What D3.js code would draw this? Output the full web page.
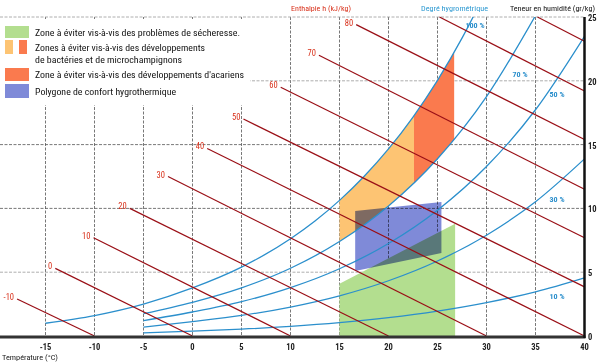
<!DOCTYPE html>
<html><head><meta charset="utf-8">
<script src="https://cdn.jsdelivr.net/npm/d3@7"></script>
<style>
html,body{margin:0;padding:0;background:#fff;}
svg{display:block;font-family:"Liberation Sans Narrow","Roboto Condensed","Liberation Sans",Arial,sans-serif;}
</style></head>
<body><svg id="c" width="600" height="364"></svg>
<script>
// ---------- DATA ----------
const xTicks = [-15,-10,-5,0,5,10,15,20,25,30,35,40];
const yTicks = [0,5,10,15,20,25];
// relative humidity curves (T in °C, W in g/kg)
const rhLabels = ["100 %","70 %","50 %","30 %","10 %"];
const rh100T = [-15,-10,-5,0,5,10,12.5,15,17.5,20,22.5,25,27.5,28.7];
const rh100W = [1.0,1.6,2.5,3.77,5.4,7.62,9.01,10.63,12.5,14.66,17.16,20.04,23.34,25.1];
const rhT = [-5,0,5,10,15,20,25,30,35,40];
const rh70W = [1.75,2.64,3.77,5.31,7.40,10.19,13.89,18.76,25.11,null];
const rh50W = [1.2,1.88,2.69,3.79,5.27,7.25,9.86,13.28,17.73,23.49];
const rh30W = [0.7,1.13,1.61,2.27,3.15,4.33,5.88,7.90,10.52,13.88];
const rh10W = [0.24,0.375,0.535,0.754,1.046,1.435,1.946,2.612,3.466,4.56];
// enthalpy lines (kJ/kg)
const hValues = [-10,0,10,20,30,40,50,60,70,80,90,100];
const hShowLabel = [true,true,true,true,true,true,true,true,true,true,false,false];
const hStartT = [-17.9,-14.0,-10.1,-6.4,-2.5,1.5,5.2,9.0,12.9,16.7,25.2,35.2];
const hStartW = [2.9,5.3,7.7,10.0,12.5,14.7,17.0,19.5,22.0,24.4,25,25];
const hEndT = [-10,0,10,20,30,40,40,40,40,40,40,40];
const hEndW = [0,0,0,0,0,0,3.85,7.7,11.5,15.4,19.2,23.1];
// zones
const orangeT = [15,17.5,20,22.6];
const orangeTop = [10.63,12.5,14.66,17.27];
const orangeBot = [7.40,8.70,10.19,11.99];
const redT = [22.6,25,26.7];
const redTop = [17.27,20.04,22.23];
const redBot = [11.99,13.89,15.40];
const greenT = [15,26.8];
const greenTop = [4.1,8.8];
const comfortT = [16.6,25.4,25.4,16.6];
const comfortW = [9.8,10.5,6.5,5.1];
// legend
const legendTexts = [
  "Zone à éviter vis-à-vis des problèmes de sécheresse.",
  "Zones à éviter vis-à-vis des développements",
  "de bactéries et de microchampignons",
  "Zone à éviter vis-à-vis des développements d'acariens",
  "Polygone de confort hygrothermique"
];

// ---------- STYLE ----------
const C = {green:"#b3de8f", orange:"#fdc473", red:"#fa7a4e", blue:"#7f8ad8",
  rh:"#2b8fcc", h:"#9a0f16", hLabel:"#d8301a", grid:"#555"};

const svg = d3.select("#c");
const x = d3.scaleLinear().domain([-15,40]).range([45.5,584.5]);
const y = d3.scaleLinear().domain([0,25]).range([336,17]);

svg.append("defs").append("clipPath").attr("id","plot")
  .append("rect").attr("x",0).attr("y",y(25)).attr("width",x(40)).attr("height",y(0)-y(25));

// grid
const g = svg.append("g");
g.selectAll("line.v").data(xTicks.filter(t=>t<40)).enter().append("line")
  .attr("x1",d=>x(d)).attr("x2",d=>x(d)).attr("y1",y(25)).attr("y2",y(0))
  .attr("stroke",C.grid).attr("stroke-width",0.8).attr("stroke-dasharray","3,1.5");
g.selectAll("line.h").data(yTicks.filter(t=>t>0)).enter().append("line")
  .attr("x1",0).attr("x2",x(40)).attr("y1",d=>y(d)).attr("y2",d=>y(d))
  .attr("stroke",d=>(d===10||d===15)?"#555":"#999")
  .attr("stroke-width",0.8).attr("stroke-dasharray","3,1.5");

// zones
const zones = svg.append("g");
zones.append("path")
  .attr("d", d3.area().x((d,i)=>x(greenT[i])).y0(()=>y(0)).y1((d,i)=>y(greenTop[i]))(greenT))
  .attr("fill",C.green);
zones.append("path")
  .attr("d", d3.area().curve(d3.curveMonotoneX).x((d,i)=>x(orangeT[i])).y0((d,i)=>y(orangeBot[i])).y1((d,i)=>y(orangeTop[i]))(orangeT))
  .attr("fill",C.orange);
zones.append("path")
  .attr("d", d3.area().curve(d3.curveMonotoneX).x((d,i)=>x(redT[i])).y0((d,i)=>y(redBot[i])).y1((d,i)=>y(redTop[i]))(redT))
  .attr("fill",C.red);
zones.append("path")
  .attr("d", d3.line().x((d,i)=>x(comfortT[i])).y((d,i)=>y(comfortW[i]))(comfortT)+"Z")
  .attr("fill",C.blue).style("mix-blend-mode","multiply");

// RH curves
const curves = svg.append("g").attr("clip-path","url(#plot)");
const lineGen = d3.line().defined(d=>d[1]!=null).curve(d3.curveMonotoneX).x(d=>x(d[0])).y(d=>y(d[1]));
const series = [rh100T.map((t,i)=>[t,rh100W[i]]),
  rhT.map((t,i)=>[t,rh70W[i]]), rhT.map((t,i)=>[t,rh50W[i]]),
  rhT.map((t,i)=>[t,rh30W[i]]), rhT.map((t,i)=>[t,rh10W[i]])];
curves.selectAll("path.rh").data(series).enter().append("path")
  .attr("d",lineGen).attr("fill","none").attr("stroke",C.rh).attr("stroke-width",1.3);

// enthalpy lines
const hl = svg.append("g");
hl.selectAll("line").data(hValues).enter().append("line")
  .attr("x1",(d,i)=>x(hStartT[i])).attr("y1",(d,i)=>y(hStartW[i]))
  .attr("x2",(d,i)=>x(hEndT[i])).attr("y2",(d,i)=>y(hEndW[i]))
  .attr("stroke",C.h).attr("stroke-width",1.2);
hl.selectAll("text").data(hValues.filter((d,i)=>hShowLabel[i])).enter().append("text")
  .attr("x",(d,i)=>x(hStartT[i])-3).attr("y",(d,i)=>y(hStartW[i])+1)
  .attr("text-anchor","end").attr("font-size",8.5).attr("fill",C.hLabel).text(d=>d);

// RH labels
const rhLabelPos = [[475,28],[520,77],[557,97],[557,202],[557,299]];
svg.selectAll("text.rhl").data(rhLabels).enter().append("text")
  .attr("x",(d,i)=>rhLabelPos[i][0]).attr("y",(d,i)=>rhLabelPos[i][1])
  .attr("text-anchor","middle").attr("font-size",8).attr("font-weight","bold")
  .attr("fill",C.rh).text(d=>d);

// axes
svg.append("line").attr("x1",0).attr("x2",x(40)+1).attr("y1",y(0)+1).attr("y2",y(0)+1)
  .attr("stroke","#333").attr("stroke-width",3);
svg.append("line").attr("x1",x(40)).attr("x2",x(40)).attr("y1",y(25)).attr("y2",y(0)+2)
  .attr("stroke","#111").attr("stroke-width",2.5);
svg.selectAll("text.xt").data(xTicks).enter().append("text")
  .attr("x",d=>x(d)).attr("y",350).attr("text-anchor","middle")
  .attr("font-size",8.5).attr("font-weight","bold").attr("fill","#222").text(d=>d);
svg.selectAll("text.yt").data(yTicks).enter().append("text")
  .attr("x",588).attr("y",d=>y(d)+4).attr("font-size",8.5).attr("font-weight","bold")
  .attr("fill","#222").text(d=>d);
svg.append("text").attr("x",2).attr("y",360).attr("font-size",8).attr("fill","#222")
  .attr("textLength",56).attr("lengthAdjust","spacingAndGlyphs").text("Température (°C)");

// titles
svg.append("text").attr("x",291).attr("y",11).attr("font-size",8).attr("fill",C.hLabel)
  .attr("textLength",60).attr("lengthAdjust","spacingAndGlyphs").text("Enthalpie h (kJ/kg)");
svg.append("text").attr("x",421).attr("y",11).attr("font-size",8).attr("fill","#2f9ad2")
  .attr("textLength",67).attr("lengthAdjust","spacingAndGlyphs").text("Degré hygrométrique");
svg.append("text").attr("x",510).attr("y",11).attr("font-size",8).attr("fill","#111")
  .attr("textLength",85).attr("lengthAdjust","spacingAndGlyphs").text("Teneur en humidité (gr/kg)");

// legend
const lg = svg.append("g");
lg.append("rect").attr("x",0).attr("y",19).attr("width",250).attr("height",86).attr("fill","#fff");
lg.append("rect").attr("x",5).attr("y",26).attr("width",24).attr("height",12).attr("fill",C.green);
lg.append("rect").attr("x",5).attr("y",40).attr("width",8).attr("height",14).attr("fill",C.orange);
lg.append("rect").attr("x",19).attr("y",40).attr("width",8).attr("height",14).attr("fill",C.red);
lg.append("rect").attr("x",5).attr("y",68).attr("width",24).attr("height",13).attr("fill",C.red);
lg.append("rect").attr("x",5).attr("y",84).attr("width",24).attr("height",14).attr("fill",C.blue);
const lgY = [36,51,63,78,95];
const lgW = [205,170,147,209,141];
lg.selectAll("text").data(legendTexts).enter().append("text")
  .attr("x",35).attr("y",(d,i)=>lgY[i]).attr("font-size",9.5).attr("fill","#111")
  .attr("textLength",(d,i)=>lgW[i]).attr("lengthAdjust","spacingAndGlyphs").text(d=>d);
</script></body></html>
